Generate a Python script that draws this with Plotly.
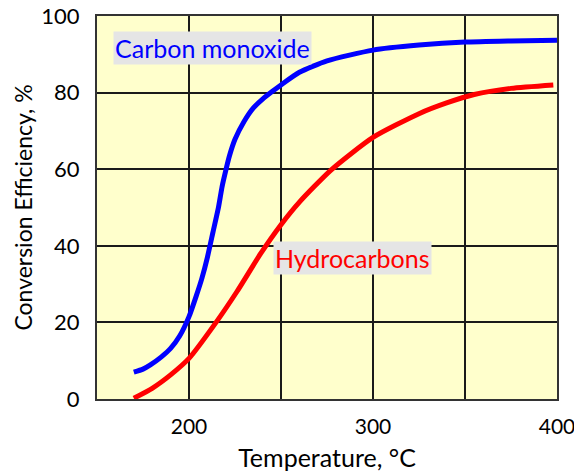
import plotly.graph_objects as go

# Carbon monoxide conversion efficiency (%) vs temperature (°C)
co_temp = [170, 175, 179, 185, 190, 195, 200, 204, 207, 210, 213, 216, 218, 220, 222, 225, 230, 235, 240, 245, 250, 260, 275, 300, 325, 350, 375, 400]
co_eff = [7, 7.8, 8.9, 11, 13.2, 16.5, 21.5, 27, 31.5, 37, 43.5, 50, 55.5, 59.7, 63.5, 67.8, 72.5, 76, 78.3, 80.2, 82, 85.3, 88.3, 91.1, 92.4, 93.2, 93.5, 93.7]

# Hydrocarbons conversion efficiency (%) vs temperature (°C)
hc_temp = [170, 180, 190, 200, 215, 226, 239, 250, 260, 277, 300, 325, 340, 355, 375, 398]
hc_eff = [0.2, 2.8, 6.3, 10.6, 20.2, 28, 38, 45.5, 51.4, 59.7, 68.3, 74.5, 77.3, 79.5, 81.1, 82]

x_tickvals = [200, 250, 300, 350, 400]
x_ticktext = ["200", "", "300", "", "400"]
y_tickvals = [0, 20, 40, 60, 80, 100]
y_ticktext = ["0", "20", "40", "60", "80", "100"]

FONT = "Lato"

fig = go.Figure()
fig.add_trace(go.Scatter(x=co_temp, y=co_eff, mode="lines",
                         line=dict(color="#0000ff", width=5, shape="spline", smoothing=0.6),
                         showlegend=False, hoverinfo="skip"))
fig.add_trace(go.Scatter(x=hc_temp, y=hc_eff, mode="lines",
                         line=dict(color="#ff0000", width=5, shape="spline", smoothing=0.6),
                         showlegend=False, hoverinfo="skip"))

fig.add_annotation(x=158.5, y=91.7, xref="x", yref="y", text="Carbon monoxide",
                   showarrow=False, xanchor="left", yanchor="middle",
                   font=dict(family=FONT, size=25, color="#0000ff"),
                   bgcolor="#e5e5e5", borderpad=1)
fig.add_annotation(x=245.5, y=36.9, xref="x", yref="y", text="Hydrocarbons",
                   showarrow=False, xanchor="left", yanchor="middle",
                   font=dict(family=FONT, size=25, color="#ff0000"),
                   bgcolor="#e5e5e5", borderpad=1)

fig.update_layout(
    width=574, height=472,
    margin=dict(l=97, r=17, t=16, b=73, autoexpand=False),
    paper_bgcolor="white",
    plot_bgcolor="#ffffcc",
    font=dict(family=FONT, size=21, color="black"),
)
fig.update_xaxes(range=[150, 400], tickvals=x_tickvals, ticktext=x_ticktext,
                 showgrid=True, gridcolor="#1a1a1a", gridwidth=1.5,
                 showline=True, linecolor="#333333", linewidth=2, mirror=True,
                 ticks="", ticklabelstandoff=8, zeroline=False, automargin=False,
                 ticklabeloverflow="allow", tickfont=dict(size=21),
                 title=dict(text="Temperature, °C", font=dict(family=FONT, size=25), standoff=16))
fig.update_yaxes(range=[0, 100], tickvals=y_tickvals, ticktext=y_ticktext,
                 showgrid=True, gridcolor="#1a1a1a", gridwidth=1.5,
                 showline=True, linecolor="#333333", linewidth=2, mirror=True,
                 ticks="", ticklabelstandoff=11, zeroline=False, automargin=False,
                 ticklabeloverflow="allow", tickfont=dict(size=22),
                 title=dict(text="Conversion Efficiency, %", font=dict(family=FONT, size=23), standoff=2))

fig.write_html("out.html", config={"displayModeBar": False},
               post_script="document.body.style.margin='0';document.body.style.overflow='hidden';")
